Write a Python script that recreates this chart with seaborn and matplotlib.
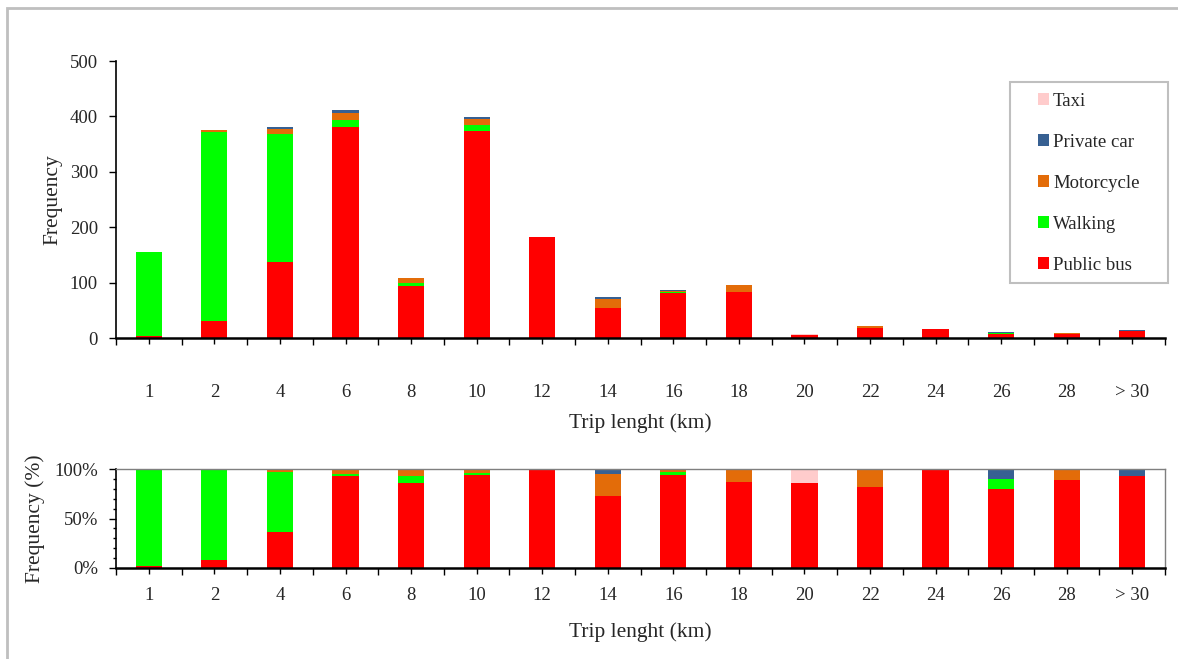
import matplotlib
matplotlib.use("Agg")
import matplotlib.pyplot as plt
from matplotlib.patches import Patch, Rectangle
from matplotlib.ticker import MultipleLocator, FuncFormatter
import numpy as np
import pandas as pd
import seaborn as sns

# trip length classes (km)
cats = ["1", "2", "4", "6", "8", "10", "12", "14", "16", "18", "20", "22", "24", "26", "28", "> 30"]

# frequencies per mode
public_bus = [3, 30, 137, 381, 93, 374, 182, 54, 81, 83, 6, 18, 16, 8, 8, 13]
walking = [152, 342, 231, 12, 7, 10, 0, 0, 2, 0, 0, 0, 0, 1, 0, 0]
motorcycle = [1, 3, 10, 14, 8, 12, 1, 16, 2, 13, 0, 4, 0, 0, 1, 0]
private_car = [0, 0, 2, 5, 0, 3, 0, 4, 1, 0, 0, 0, 0, 1, 0, 1]
taxi = [0, 0, 0, 0, 0, 0, 0, 0, 0, 0, 1, 0, 0, 0, 0, 0]

modes = ["Public bus", "Walking", "Motorcycle", "Private car", "Taxi"]
colors = ["#FF0000", "#00FF00", "#E36C09", "#376092", "#FFCCCC"]

df = pd.DataFrame({"Public bus": public_bus, "Walking": walking, "Motorcycle": motorcycle,
                   "Private car": private_car, "Taxi": taxi}, index=cats)
cum = df.cumsum(axis=1)
pct = cum.div(df.sum(axis=1), axis=0) * 100

sns.set_style("ticks")
plt.rcParams["font.family"] = ["Liberation Serif", "DejaVu Serif"]
plt.rcParams["font.size"] = 13.5

fig = plt.figure(figsize=(11.78, 6.59), dpi=100)
ax1 = fig.add_axes([0.0985, 0.4871, 0.8905, 0.4203])
ax2 = fig.add_axes([0.0985, 0.1381, 0.8905, 0.1502])

# gray outer frame
fig.patches.append(Rectangle((0.006, -0.05), 1.2, 1.038, transform=fig.transFigure,
                             fill=False, edgecolor="#BFBFBF", lw=2))

for ax, data in [(ax1, cum), (ax2, pct)]:
    for m, c in reversed(list(zip(modes, colors))):
        sns.barplot(x=cats, y=data[m].values, color=c, saturation=1, width=0.4,
                    order=cats, ax=ax, edgecolor="none")
    ax.set_xlim(-0.5, len(cats) - 0.5)
    ax.xaxis.set_major_locator(plt.FixedLocator(np.arange(len(cats))))
    ax.xaxis.set_minor_locator(plt.FixedLocator(np.arange(len(cats) + 1) - 0.5))
    ax.tick_params(axis="x", which="major", direction="out", length=4, width=1, color="black")
    ax.tick_params(axis="x", which="minor", direction="out", length=5, width=1, color="black")
    ax.tick_params(axis="y", which="both", direction="out", width=1, color="black")
    ax.spines["left"].set_color("black")
    ax.spines["bottom"].set_color("black")
    ax.spines["bottom"].set_linewidth(1.8)
    ax.spines["left"].set_linewidth(1.2)

ax1.set_ylim(0, 500)
ax1.yaxis.set_major_locator(MultipleLocator(100))
ax1.tick_params(axis="x", which="major", pad=29)
ax1.tick_params(axis="y", length=5, pad=8)
ax1.spines["top"].set_visible(False)
ax1.spines["right"].set_visible(False)
ax1.set_ylabel("Frequency", fontsize=15.5, labelpad=5)
ax1.set_xlabel("Trip lenght (km)", fontsize=15.5, labelpad=9)

ax2.set_ylim(0, 100)
ax2.yaxis.set_major_locator(MultipleLocator(50))
ax2.yaxis.set_minor_locator(MultipleLocator(10))
ax2.yaxis.set_major_formatter(FuncFormatter(lambda v, p: f"{v:.0f}%"))
ax2.tick_params(axis="y", which="major", length=5, pad=8)
ax2.tick_params(axis="y", which="minor", length=2.5)
ax2.tick_params(axis="x", which="major", pad=9.5)
for s in ["top", "right"]:
    ax2.spines[s].set_color("#7F7F7F")
    ax2.spines[s].set_linewidth(1)
ax2.set_ylabel("Frequency (%)", fontsize=15.5, labelpad=7)
ax2.set_xlabel("Trip lenght (km)", fontsize=15.5, labelpad=13.5)

# legend box drawn separately so its size matches the original
fig.patches.append(Rectangle((1010 / 1178, 1 - 283 / 659), 158 / 1178, 201 / 659,
                             transform=fig.transFigure, fill=False,
                             edgecolor="#BFBFBF", lw=1.5))
handles = [Patch(facecolor=c, edgecolor="none", label=m) for m, c in zip(modes, colors)][::-1]
fig.legend(handles=handles, loc="upper left", bbox_to_anchor=(1038 / 1178, 1 - 93 / 659),
           frameon=False, fontsize=13.5, handlelength=0.6, handleheight=0.6,
           handletextpad=0.2, labelspacing=1.28, borderpad=0, borderaxespad=0)

fig.savefig("out.png", dpi=100)
